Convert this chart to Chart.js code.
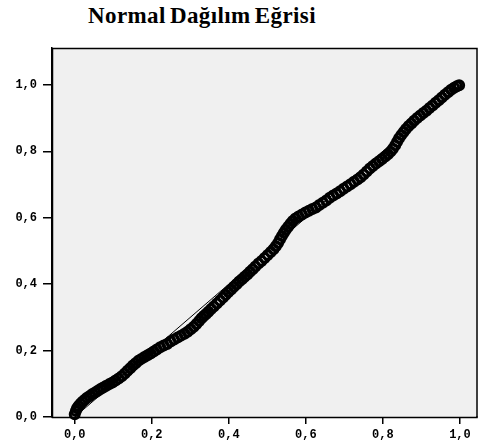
<!DOCTYPE html>
<html lang="tr">
<head>
<meta charset="utf-8">
<title>Normal Dağılım Eğrisi</title>
<script src="https://cdn.jsdelivr.net/npm/chart.js@4.4.1/dist/chart.umd.min.js"></script>
<style>
  html, body { margin: 0; padding: 0; background: #fff; }
  #wrap { position: relative; width: 484px; height: 447px; }
  #chartTitle {
    position: absolute; left: 88px; top: 3px; margin: 0;
    font: bold 23px "Liberation Serif", "Times New Roman", serif;
    letter-spacing: 0.4px; word-spacing: -2px; color: #000;
  }
  canvas { position: absolute; left: 0; top: 0; }
</style>
</head>
<body>
<div id="wrap">
  <h1 id="chartTitle">Normal Dağılım Eğrisi</h1>
  <canvas id="ppChart" width="484" height="447"></canvas>
</div>
<script>
// gözlenen birikimli olasılık (x) ve beklenen birikimli olasılık (y)
const observedProb = [
  0.000, 0.003, 0.006, 0.010, 0.015, 0.020, 0.026, 0.032, 0.039, 0.046,
  0.053, 0.060, 0.067, 0.074, 0.082, 0.090, 0.098, 0.106, 0.114, 0.122,
  0.130, 0.137, 0.144, 0.151, 0.158, 0.165, 0.173, 0.181, 0.189, 0.197,
  0.205, 0.213, 0.222, 0.231, 0.240, 0.249, 0.258, 0.267, 0.276, 0.285,
  0.293, 0.301, 0.309, 0.316, 0.323, 0.329, 0.335, 0.341, 0.347, 0.354,
  0.361, 0.369, 0.377, 0.385, 0.392, 0.399, 0.406, 0.413, 0.420, 0.427,
  0.434, 0.441, 0.448, 0.455, 0.462, 0.469, 0.477, 0.485, 0.493, 0.501,
  0.509, 0.516, 0.522, 0.528, 0.533, 0.538, 0.543, 0.548, 0.554, 0.560,
  0.566, 0.573, 0.581, 0.590, 0.599, 0.608, 0.617, 0.626, 0.635, 0.644,
  0.653, 0.662, 0.671, 0.680, 0.689, 0.698, 0.707, 0.716, 0.725, 0.734,
  0.742, 0.750, 0.758, 0.766, 0.774, 0.782, 0.790, 0.798, 0.806, 0.813,
  0.820, 0.826, 0.832, 0.837, 0.842, 0.848, 0.854, 0.860, 0.867, 0.874,
  0.881, 0.889, 0.897, 0.905, 0.913, 0.921, 0.929, 0.937, 0.945, 0.953,
  0.961, 0.969, 0.977, 0.985, 0.992, 0.998
];
const expectedProb = [
  0.008, 0.018, 0.026, 0.033, 0.040, 0.046, 0.052, 0.058, 0.063, 0.069,
  0.074, 0.079, 0.084, 0.089, 0.094, 0.099, 0.104, 0.110, 0.116, 0.123,
  0.131, 0.139, 0.147, 0.155, 0.162, 0.169, 0.175, 0.181, 0.186, 0.191,
  0.197, 0.203, 0.210, 0.215, 0.220, 0.227, 0.233, 0.239, 0.245, 0.251,
  0.257, 0.264, 0.272, 0.280, 0.289, 0.297, 0.304, 0.310, 0.317, 0.325,
  0.333, 0.342, 0.351, 0.360, 0.368, 0.376, 0.384, 0.392, 0.400, 0.408,
  0.415, 0.422, 0.429, 0.437, 0.445, 0.453, 0.462, 0.470, 0.479, 0.488,
  0.497, 0.505, 0.514, 0.524, 0.535, 0.545, 0.555, 0.564, 0.573, 0.582,
  0.590, 0.598, 0.604, 0.610, 0.616, 0.621, 0.626, 0.631, 0.638, 0.645,
  0.652, 0.660, 0.667, 0.673, 0.680, 0.687, 0.694, 0.701, 0.708, 0.715,
  0.722, 0.730, 0.739, 0.748, 0.756, 0.763, 0.770, 0.777, 0.784, 0.791,
  0.799, 0.808, 0.818, 0.829, 0.839, 0.849, 0.858, 0.867, 0.876, 0.884,
  0.892, 0.900, 0.908, 0.915, 0.922, 0.930, 0.938, 0.946, 0.954, 0.962,
  0.970, 0.978, 0.985, 0.991, 0.996, 0.999
];
// referans doğrusu (0,0) - (1,1)
const refLineX = [0, 1];
const refLineY = [0, 1];
const xTickValues = [0, 0.2, 0.4, 0.6, 0.8, 1.0];
const yTickValues = [0, 0.2, 0.4, 0.6, 0.8, 1.0];

const fmt = v => v.toFixed(1).replace('.', ',');
const tickFont = { family: '"Liberation Mono", "DejaVu Sans Mono", monospace', size: 12, weight: 'bold' };

// gri çizim alanı ve çerçeve
const plotFrame = {
  id: 'plotFrame',
  beforeDatasetsDraw(chart) {
    const { ctx, chartArea: a } = chart;
    ctx.save();
    ctx.fillStyle = '#f0f0f0';
    ctx.fillRect(a.left, a.top, a.right - a.left, a.bottom - a.top);
    ctx.restore();
  },
  afterDraw(chart) {
    const { ctx, chartArea: a } = chart;
    ctx.save();
    ctx.strokeStyle = '#000';
    ctx.lineWidth = 1.5;
    ctx.strokeRect(a.left + 0.5, a.top + 0.5, a.right - a.left, a.bottom - a.top);
    ctx.restore();
  }
};

new Chart(document.getElementById('ppChart'), {
  type: 'scatter',
  data: {
    datasets: [
      {
        label: 'Gözlenen',
        data: observedProb.map((x, i) => ({ x, y: expectedProb[i] })),
        pointStyle: 'circle',
        pointRadius: 4.5,
        pointBorderWidth: 3,
        borderColor: '#000',
        backgroundColor: 'rgba(0,0,0,0)',
        clip: false,
        order: 2
      },
      {
        type: 'line',
        label: 'Referans',
        data: refLineX.map((x, i) => ({ x, y: refLineY[i] })),
        borderColor: '#000',
        borderWidth: 1,
        pointRadius: 0,
        fill: false,
        order: 1
      }
    ]
  },
  options: {
    responsive: false,
    animation: false,
    layout: { padding: { top: 48, left: 0, right: 0, bottom: 0 } },
    plugins: { legend: { display: false }, tooltip: { enabled: false }, title: { display: false } },
    scales: {
      x: {
        type: 'linear',
        min: -0.059,
        max: 1.043,
        afterBuildTicks: s => { s.ticks = xTickValues.map(value => ({ value })); },
        afterFit: s => { s.height = 30; },
        ticks: { color: '#000', font: tickFont, padding: 4, maxRotation: 0, callback: fmt },
        grid: { drawOnChartArea: false, drawTicks: true, tickLength: 7, color: '#000', lineWidth: 1.5 },
        border: { display: true, color: '#000', width: 1.5 }
      },
      y: {
        type: 'linear',
        min: 0,
        max: 1.111,
        afterBuildTicks: s => { s.ticks = yTickValues.map(value => ({ value })); },
        afterFit: s => { s.width = 52; },
        ticks: { color: '#000', font: tickFont, padding: 6, callback: fmt },
        grid: { drawOnChartArea: false, drawTicks: true, tickLength: 9, color: '#000', lineWidth: 1.5 },
        border: { display: true, color: '#000', width: 1.5 }
      }
    }
  },
  plugins: [plotFrame]
});
</script>
</body>
</html>
